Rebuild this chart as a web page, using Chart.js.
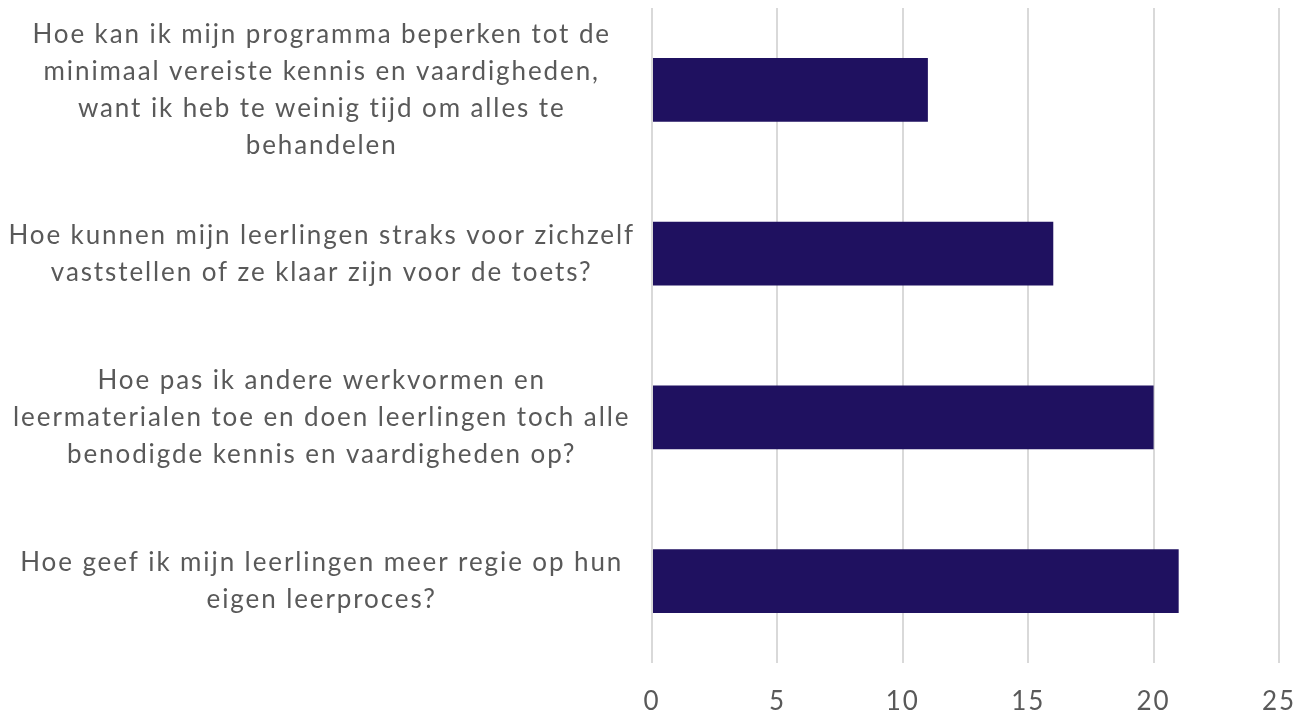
<!DOCTYPE html>
<html>
<head>
<meta charset="utf-8">
<script src="https://cdn.jsdelivr.net/npm/chart.js@4/dist/chart.umd.min.js"></script>
<style>
  html, body { margin: 0; padding: 0; background: #fff; }
  #wrap { width: 1295px; height: 714px; }
</style>
</head>
<body>
<div id="wrap"><canvas id="vragenChart" width="1295" height="714"></canvas></div>
<script>
// vragen (categorieën), elke regel apart zoals in het origineel
const vragen = [
  ['Hoe kan ik mijn programma beperken tot de', 'minimaal vereiste kennis en vaardigheden,', 'want ik heb te weinig tijd om alles te', 'behandelen'],
  ['Hoe kunnen mijn leerlingen straks voor zichzelf', 'vaststellen of ze klaar zijn voor de toets?'],
  ['Hoe pas ik andere werkvormen en', 'leermaterialen toe en doen leerlingen toch alle', 'benodigde kennis en vaardigheden op?'],
  ['Hoe geef ik mijn leerlingen meer regie op hun', 'eigen leerproces?']
];
const aantallen = [11, 16, 20, 21];
const asMin = 0;
const asMax = 25;
const asStap = 5;

const tekstKleur = '#595959';
const letterAfstand = '1.9px';

// letterafstand zetten voor het meten en tekenen van de labels
const letterSpacingPlugin = {
  id: 'letterSpacing',
  beforeUpdate(chart) { chart.ctx.letterSpacing = letterAfstand; },
  beforeDraw(chart) { chart.ctx.letterSpacing = letterAfstand; }
};

const ctx = document.getElementById('vragenChart').getContext('2d');
new Chart(ctx, {
  type: 'bar',
  data: {
    labels: vragen,
    datasets: [{
      data: aantallen,
      backgroundColor: '#1f1160',
      borderWidth: 0,
      barPercentage: 0.39,
      categoryPercentage: 1
    }]
  },
  options: {
    indexAxis: 'y',
    responsive: false,
    animation: false,
    layout: { padding: { left: 0, right: 16, top: 8, bottom: 0 } },
    plugins: {
      legend: { display: false },
      tooltip: { enabled: false }
    },
    scales: {
      x: {
        min: asMin,
        max: asMax,
        ticks: {
          stepSize: asStap,
          color: tekstKleur,
          padding: 26,
          font: { family: 'Lato', size: 26, lineHeight: 1 }
        },
        grid: { color: '#d9d9d9', lineWidth: 2, drawTicks: false },
        border: { display: false },
        afterFit(scale) {
          scale.height = 51;
          scale.paddingLeft = 0;
          scale.paddingRight = 0;
        }
      },
      y: {
        ticks: {
          color: tekstKleur,
          crossAlign: 'center',
          padding: 9,
          font: { family: 'Lato', size: 26, lineHeight: 37 / 26 }
        },
        grid: { display: false },
        border: { display: false },
        afterFit(scale) {
          scale.width = 652;
          scale.paddingTop = 0;
          scale.paddingBottom = 0;
        }
      }
    }
  },
  plugins: [letterSpacingPlugin]
});
</script>
</body>
</html>
